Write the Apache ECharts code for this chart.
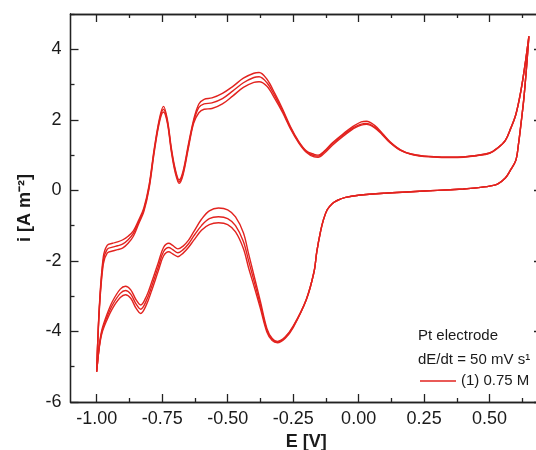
<!DOCTYPE html>
<html><head><meta charset="utf-8">
<script src="https://cdn.jsdelivr.net/npm/echarts@6/dist/echarts.min.js"></script>
<style>html,body{margin:0;padding:0;background:#fff}#c{width:536px;height:450px}</style>
</head><body><div id="c"></div>
<script>
// Anodic sweep potentials (V) and currents (A m^-2) for three cycles
var anodicE = [-1.00,-0.99,-0.975,-0.96,-0.94,-0.92,-0.90,-0.88,-0.86,-0.84,-0.82,-0.80,-0.78,-0.76,-0.745,-0.73,-0.715,-0.70,-0.685,-0.67,-0.65,-0.63,-0.61,-0.59,-0.56,-0.52,-0.48,-0.44,-0.40,-0.38,-0.35,-0.32,-0.29,-0.26,-0.23,-0.20,-0.17,-0.155,-0.13,-0.10,-0.06,-0.02,0.01,0.03,0.06,0.09,0.12,0.16,0.20,0.25,0.30,0.35,0.40,0.45,0.50,0.53,0.56,0.58,0.60,0.62,0.635,0.65];
var anodic1 = [-5.14,-3.3,-1.9,-1.56,-1.50,-1.46,-1.40,-1.30,-1.15,-0.85,-0.50,0.15,1.2,2.05,2.38,2.0,1.2,0.6,0.3,0.55,1.3,2.0,2.45,2.58,2.62,2.75,2.95,3.18,3.32,3.34,3.15,2.75,2.3,1.8,1.4,1.12,1.02,1.0,1.12,1.35,1.6,1.82,1.94,1.96,1.85,1.62,1.38,1.15,1.03,0.97,0.95,0.94,0.95,0.99,1.06,1.2,1.42,1.75,2.15,2.85,3.55,4.37];
var anodic2 = [-5.14,-3.35,-2.0,-1.67,-1.61,-1.57,-1.52,-1.40,-1.22,-0.9,-0.55,0.1,1.15,2.0,2.30,1.95,1.15,0.55,0.25,0.5,1.25,1.95,2.35,2.45,2.48,2.6,2.82,3.05,3.2,3.22,3.05,2.68,2.25,1.77,1.38,1.1,0.98,0.97,1.1,1.32,1.57,1.78,1.88,1.9,1.8,1.6,1.36,1.14,1.03,0.97,0.95,0.94,0.95,0.99,1.06,1.2,1.42,1.75,2.15,2.85,3.55,4.37];
var anodic3 = [-5.14,-3.4,-2.1,-1.78,-1.72,-1.68,-1.63,-1.50,-1.30,-0.95,-0.6,0.05,1.1,1.95,2.22,1.9,1.1,0.5,0.2,0.45,1.2,1.9,2.2,2.3,2.32,2.45,2.68,2.92,3.06,3.08,2.95,2.6,2.2,1.74,1.36,1.08,0.95,0.94,1.06,1.28,1.53,1.75,1.85,1.87,1.78,1.58,1.35,1.13,1.02,0.96,0.94,0.93,0.94,0.98,1.05,1.19,1.41,1.74,2.14,2.84,3.55,4.37];
// Cathodic sweep potentials (V) and currents for three cycles
var cathodicE = [0.65,0.64,0.63,0.62,0.61,0.60,0.58,0.56,0.53,0.50,0.45,0.40,0.30,0.20,0.10,0.00,-0.05,-0.08,-0.10,-0.12,-0.135,-0.145,-0.16,-0.17,-0.20,-0.25,-0.28,-0.31,-0.33,-0.35,-0.375,-0.40,-0.42,-0.44,-0.47,-0.50,-0.535,-0.57,-0.60,-0.63,-0.65,-0.67,-0.69,-0.71,-0.725,-0.745,-0.765,-0.79,-0.81,-0.832,-0.85,-0.87,-0.89,-0.91,-0.94,-0.96,-0.98,-0.99,-1.00];
var cathodic1 = [4.37,3.4,2.55,1.9,1.3,0.85,0.58,0.35,0.18,0.12,0.07,0.04,0.0,-0.04,-0.08,-0.14,-0.2,-0.28,-0.37,-0.55,-0.85,-1.15,-1.75,-2.3,-3.1,-3.85,-4.15,-4.28,-4.2,-3.92,-3.15,-2.4,-1.8,-1.2,-0.75,-0.55,-0.5,-0.58,-0.82,-1.18,-1.42,-1.58,-1.66,-1.56,-1.5,-1.62,-2.05,-2.6,-3.0,-3.25,-3.1,-2.82,-2.72,-2.8,-3.15,-3.5,-3.95,-4.4,-5.14];
var cathodic2 = [4.37,3.4,2.55,1.9,1.3,0.85,0.58,0.35,0.18,0.12,0.07,0.04,0.0,-0.04,-0.08,-0.14,-0.2,-0.28,-0.37,-0.55,-0.85,-1.15,-1.75,-2.3,-3.1,-3.87,-4.17,-4.30,-4.23,-3.97,-3.25,-2.55,-2.0,-1.45,-1.0,-0.8,-0.75,-0.8,-1.0,-1.3,-1.52,-1.68,-1.77,-1.68,-1.62,-1.74,-2.17,-2.72,-3.12,-3.37,-3.22,-2.94,-2.84,-2.92,-3.25,-3.58,-4.0,-4.42,-5.14];
var cathodic3 = [4.37,3.4,2.55,1.9,1.3,0.85,0.58,0.35,0.18,0.12,0.07,0.04,0.0,-0.04,-0.08,-0.14,-0.2,-0.28,-0.37,-0.55,-0.85,-1.15,-1.75,-2.3,-3.1,-3.89,-4.19,-4.32,-4.26,-4.02,-3.35,-2.7,-2.2,-1.65,-1.18,-0.97,-0.92,-0.97,-1.13,-1.42,-1.62,-1.78,-1.88,-1.8,-1.74,-1.86,-2.29,-2.84,-3.24,-3.49,-3.34,-3.06,-2.96,-3.04,-3.35,-3.66,-4.05,-4.45,-5.14];
var startE = -0.02;
// Tick values
var xMajorTicks = [-1.00,-0.75,-0.50,-0.25,0.00,0.25,0.50];
var xMinorTicks = [-0.875,-0.625,-0.375,-0.125,0.125,0.375,0.625];
var yMajorTicks = [-6,-4,-2,0,2,4];
var yMinorTicks = [-5,-3,-1,1,3,5];
var seriesName = '(1) 0.75 M';

function buildCycle(an, ca) {
  var pts = [], i;
  for (i = 0; i < anodicE.length; i++) if (anodicE[i] >= startE) pts.push([anodicE[i], an[i]]);
  for (i = 1; i < cathodicE.length; i++) pts.push([cathodicE[i], ca[i]]);
  for (i = 1; i < anodicE.length; i++) if (anodicE[i] <= startE) pts.push([anodicE[i], an[i]]);
  return pts;
}
var cycles = [buildCycle(anodic1, cathodic1), buildCycle(anodic2, cathodic2), buildCycle(anodic3, cathodic3)];

var RED = '#e2231f';
var FONT = '"Liberation Sans", Arial, sans-serif';
var axisLineStyle = {color: '#222', width: 1.3};

function xAxisDef(pos, ticks, len, labels) {
  return {
    type: 'value', position: pos, min: -1.1, max: 0.7,
    axisLine: {show: true, onZero: false, lineStyle: axisLineStyle},
    axisTick: {show: true, inside: true, length: len, customValues: ticks, lineStyle: axisLineStyle},
    axisLabel: labels ? {show: true, customValues: ticks, margin: 8, fontSize: 18, color: '#1a1a1a', fontFamily: FONT,
      formatter: function (v) { return v.toFixed(2); }} : {show: false},
    splitLine: {show: false}
  };
}
function yAxisDef(pos, ticks, len, labels) {
  return {
    type: 'value', position: pos, min: -6, max: 5,
    axisLine: {show: true, onZero: false, lineStyle: axisLineStyle},
    axisTick: {show: true, inside: true, length: len, customValues: ticks, lineStyle: axisLineStyle},
    axisLabel: labels ? {show: true, customValues: ticks, margin: 9, fontSize: 18, color: '#1a1a1a', fontFamily: FONT} : {show: false},
    splitLine: {show: false}
  };
}

var xAxes = [xAxisDef('bottom', xMajorTicks, 8, true), xAxisDef('bottom', xMinorTicks, 4, false),
             xAxisDef('top', xMajorTicks, 8, false), xAxisDef('top', xMinorTicks, 4, false)];
xAxes[0].name = 'E [V]';
xAxes[0].nameLocation = 'middle';
xAxes[0].nameGap = 26;
xAxes[0].nameTextStyle = {fontSize: 18, fontWeight: 'bold', color: '#1a1a1a', fontFamily: FONT};

var yAxes = [yAxisDef('left', yMajorTicks, 8, true), yAxisDef('left', yMinorTicks, 4, false),
             yAxisDef('right', yMajorTicks, 8, false), yAxisDef('right', yMinorTicks, 4, false)];
yAxes[0].name = 'i [A m⁻²]';
yAxes[0].nameLocation = 'middle';
yAxes[0].nameGap = 36;
yAxes[0].nameRotate = 90;
yAxes[0].nameTextStyle = {fontSize: 18, fontWeight: 'bold', color: '#1a1a1a', fontFamily: FONT};

var chart = echarts.init(document.getElementById('c'), null, {renderer: 'canvas'});
chart.setOption({
  animation: false,
  backgroundColor: '#fff',
  grid: {left: 70.5, width: 471.5, top: 14, bottom: 48, containLabel: false, outerBoundsMode: 'none'},
  xAxis: xAxes,
  yAxis: yAxes,
  legend: {
    data: [seriesName], left: 420, top: 372, padding: 0, icon: 'rect', itemWidth: 36, itemHeight: 1.6,
    textStyle: {fontSize: 15, color: '#1a1a1a', fontFamily: FONT, lineHeight: 18}
  },
  graphic: [
    {type: 'text', style: {x: 418, y: 336, text: 'Pt electrode', font: '15px "Liberation Sans", Arial, sans-serif', fill: '#1a1a1a', verticalAlign: 'middle'}},
    {type: 'text', style: {x: 418, y: 360, text: 'dE/dt = 50 mV s¹', font: '15px "Liberation Sans", Arial, sans-serif', fill: '#1a1a1a', verticalAlign: 'middle'}}
  ],
  series: cycles.map(function (d) {
    return {name: seriesName, type: 'line', xAxisIndex: 0, yAxisIndex: 0, data: d, showSymbol: false, symbol: 'none',
      smooth: 0.35, lineStyle: {color: RED, width: 1.4}, itemStyle: {color: RED}};
  })
});
</script></body></html>
